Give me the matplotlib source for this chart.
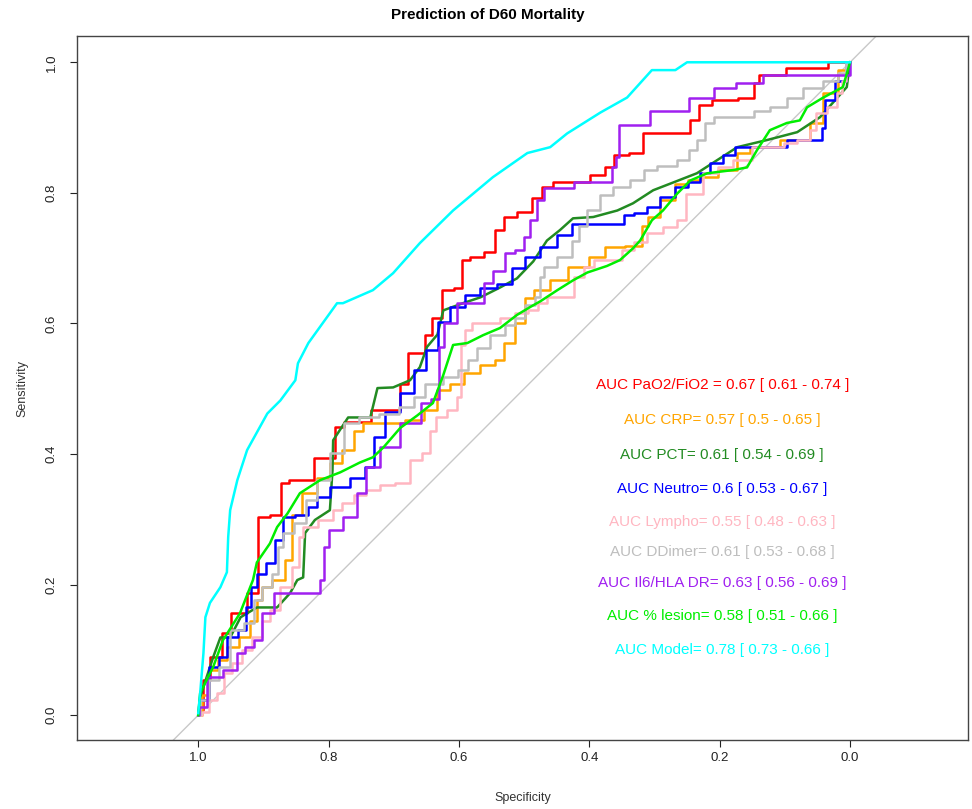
import matplotlib
matplotlib.use("Agg")
import matplotlib.pyplot as plt

plt.rcParams["font.family"] = ["Liberation Sans", "DejaVu Sans"]

# ROC curves: (specificity, sensitivity)
spec_pao2 = [1.0, 1.0, 0.986, 0.977, 0.951, 0.948, 0.933, 0.917, 0.900, 0.879, 0.867, 0.854, 0.824,
             0.821, 0.794, 0.787, 0.767, 0.702, 0.679, 0.678, 0.655, 0.649, 0.633, 0.618, 0.598,
             0.594, 0.572, 0.552, 0.537, 0.526, 0.495, 0.480, 0.465, 0.445, 0.414, 0.383, 0.368,
             0.357, 0.322, 0.314, 0.250, 0.242, 0.233, 0.230, 0.195, 0.149, 0.146, 0.133, 0.100,
             0.097, 0.035, 0.034, 0.0]
sens_pao2 = [0.0, 0.008, 0.054, 0.089, 0.126, 0.156, 0.156, 0.187, 0.303, 0.306, 0.355, 0.360, 0.360,
             0.394, 0.394, 0.441, 0.449, 0.467, 0.508, 0.554, 0.554, 0.582, 0.609, 0.651, 0.655,
             0.697, 0.701, 0.709, 0.743, 0.763, 0.770, 0.792, 0.809, 0.816, 0.816, 0.827, 0.839,
             0.858, 0.861, 0.891, 0.891, 0.911, 0.911, 0.934, 0.942, 0.946, 0.968, 0.980, 0.980,
             0.991, 0.991, 1.0, 1.0]

spec_crp = [1.0, 0.989, 0.977, 0.962, 0.951, 0.925, 0.916, 0.905, 0.900, 0.874, 0.859, 0.854, 0.828,
            0.808, 0.787, 0.771, 0.752, 0.741, 0.701, 0.664, 0.644, 0.624, 0.603, 0.583, 0.552,
            0.537, 0.526, 0.502, 0.495, 0.475, 0.445, 0.419, 0.383, 0.368, 0.322, 0.317, 0.302,
            0.281, 0.256, 0.241, 0.215, 0.189, 0.158, 0.149, 0.066, 0.057, 0.026, 0.011, 0.0]
sens_crp = [0.0, 0.031, 0.069, 0.084, 0.104, 0.119, 0.145, 0.176, 0.196, 0.207, 0.237, 0.306, 0.340,
            0.363, 0.386, 0.406, 0.436, 0.447, 0.447, 0.452, 0.467, 0.498, 0.508, 0.524, 0.536,
            0.544, 0.570, 0.600, 0.639, 0.651, 0.666, 0.686, 0.701, 0.717, 0.718, 0.750, 0.763,
            0.789, 0.813, 0.819, 0.824, 0.835, 0.861, 0.870, 0.881, 0.907, 0.953, 0.988, 1.0]

spec_pct = [1.0, 0.997, 0.977, 0.966, 0.951, 0.935, 0.910, 0.879, 0.859, 0.848, 0.839, 0.836, 0.821,
            0.798, 0.794, 0.793, 0.770, 0.736, 0.725, 0.701, 0.675, 0.660, 0.649, 0.633, 0.624,
            0.594, 0.567, 0.537, 0.511, 0.486, 0.465, 0.445, 0.425, 0.394, 0.357, 0.333, 0.302,
            0.271, 0.235, 0.173, 0.127, 0.081, 0.046, 0.005, 0.0]
sens_pct = [0.0, 0.028, 0.089, 0.119, 0.119, 0.150, 0.165, 0.165, 0.187, 0.207, 0.211, 0.279, 0.299,
            0.314, 0.375, 0.421, 0.456, 0.456, 0.501, 0.502, 0.513, 0.533, 0.564, 0.583, 0.620,
            0.631, 0.640, 0.655, 0.669, 0.695, 0.727, 0.743, 0.761, 0.763, 0.773, 0.784, 0.804,
            0.816, 0.830, 0.870, 0.881, 0.893, 0.916, 0.962, 1.0]

spec_neutro = [1.0, 0.997, 0.971, 0.966, 0.946, 0.931, 0.923, 0.916, 0.905, 0.887, 0.877, 0.863, 0.839,
               0.824, 0.813, 0.782, 0.752, 0.736, 0.725, 0.701, 0.679, 0.660, 0.640, 0.624, 0.603,
               0.578, 0.557, 0.526, 0.511, 0.486, 0.465, 0.434, 0.419, 0.353, 0.342, 0.322, 0.302,
               0.281, 0.256, 0.241, 0.219, 0.210, 0.179, 0.173, 0.107, 0.087, 0.046, 0.041, 0.035,
               0.011, 0.0]
sens_neutro = [0.0, 0.023, 0.074, 0.089, 0.119, 0.130, 0.165, 0.196, 0.217, 0.233, 0.268, 0.303, 0.306,
               0.319, 0.334, 0.349, 0.364, 0.380, 0.426, 0.464, 0.493, 0.528, 0.559, 0.602, 0.625,
               0.643, 0.655, 0.660, 0.685, 0.701, 0.717, 0.735, 0.753, 0.753, 0.766, 0.769, 0.778,
               0.793, 0.809, 0.816, 0.830, 0.845, 0.858, 0.870, 0.870, 0.881, 0.881, 0.900, 0.942,
               0.972, 1.0]

spec_lympho = [1.0, 0.989, 0.977, 0.966, 0.956, 0.940, 0.925, 0.910, 0.894, 0.885, 0.863, 0.848, 0.844,
               0.833, 0.798, 0.787, 0.771, 0.752, 0.732, 0.710, 0.686, 0.664, 0.649, 0.640, 0.629,
               0.609, 0.598, 0.595, 0.587, 0.572, 0.548, 0.526, 0.502, 0.486, 0.471, 0.460, 0.434,
               0.414, 0.403, 0.383, 0.357, 0.342, 0.322, 0.302, 0.271, 0.261, 0.241, 0.210, 0.195,
               0.164, 0.138, 0.107, 0.097, 0.066, 0.057, 0.046, 0.026, 0.015, 0.011, 0.0]
sens_lympho = [0.0, 0.005, 0.023, 0.034, 0.064, 0.080, 0.100, 0.119, 0.145, 0.161, 0.196, 0.227, 0.273,
               0.288, 0.299, 0.314, 0.325, 0.337, 0.345, 0.352, 0.355, 0.391, 0.401, 0.436, 0.456,
               0.467, 0.487, 0.567, 0.590, 0.600, 0.600, 0.609, 0.616, 0.620, 0.631, 0.640, 0.640,
               0.671, 0.686, 0.697, 0.697, 0.712, 0.724, 0.738, 0.747, 0.758, 0.799, 0.830, 0.839,
               0.850, 0.870, 0.870, 0.876, 0.881, 0.896, 0.922, 0.931, 0.953, 0.972, 1.0]

spec_ddimer = [1.0, 0.994, 0.974, 0.962, 0.939, 0.920, 0.910, 0.894, 0.879, 0.877, 0.863, 0.844, 0.824,
               0.813, 0.782, 0.771, 0.736, 0.710, 0.675, 0.664, 0.640, 0.609, 0.594, 0.578, 0.567,
               0.537, 0.521, 0.506, 0.491, 0.475, 0.475, 0.465, 0.434, 0.419, 0.414, 0.394, 0.373,
               0.353, 0.322, 0.311, 0.281, 0.250, 0.245, 0.225, 0.219, 0.199, 0.158, 0.138, 0.107,
               0.087, 0.057, 0.026, 0.011, 0.0]
sens_ddimer = [0.0, 0.023, 0.054, 0.074, 0.130, 0.141, 0.176, 0.196, 0.217, 0.257, 0.279, 0.294, 0.329,
               0.360, 0.401, 0.447, 0.456, 0.462, 0.472, 0.487, 0.508, 0.518, 0.528, 0.544, 0.562,
               0.582, 0.597, 0.609, 0.628, 0.640, 0.671, 0.686, 0.701, 0.727, 0.750, 0.773, 0.796,
               0.809, 0.819, 0.835, 0.841, 0.850, 0.865, 0.881, 0.907, 0.916, 0.916, 0.926, 0.931,
               0.946, 0.960, 0.972, 0.983, 1.0]

spec_il6 = [1.0, 0.997, 0.977, 0.946, 0.936, 0.920, 0.910, 0.893, 0.874, 0.817, 0.808, 0.805, 0.793,
            0.762, 0.752, 0.732, 0.710, 0.670, 0.660, 0.655, 0.632, 0.629, 0.618, 0.587, 0.567,
            0.557, 0.537, 0.521, 0.506, 0.495, 0.486, 0.475, 0.465, 0.434, 0.414, 0.368, 0.363,
            0.356, 0.353, 0.311, 0.304, 0.250, 0.245, 0.210, 0.207, 0.176, 0.173, 0.135, 0.133,
            0.0, 0.0]
sens_il6 = [0.0, 0.012, 0.058, 0.069, 0.095, 0.104, 0.115, 0.156, 0.187, 0.187, 0.207, 0.257, 0.283,
            0.303, 0.340, 0.380, 0.410, 0.447, 0.447, 0.478, 0.485, 0.564, 0.600, 0.631, 0.631,
            0.662, 0.681, 0.708, 0.712, 0.732, 0.758, 0.789, 0.807, 0.807, 0.816, 0.816, 0.839,
            0.855, 0.904, 0.904, 0.926, 0.926, 0.946, 0.946, 0.960, 0.960, 0.969, 0.969, 0.980,
            0.980, 1.0]

spec_lesion = [1.0, 0.997, 0.977, 0.962, 0.936, 0.916, 0.910, 0.890, 0.879, 0.863, 0.844, 0.813, 0.782,
               0.752, 0.732, 0.716, 0.690, 0.664, 0.640, 0.624, 0.609, 0.587, 0.563, 0.537, 0.511,
               0.491, 0.475, 0.449, 0.425, 0.403, 0.373, 0.353, 0.333, 0.322, 0.304, 0.287, 0.265,
               0.245, 0.219, 0.179, 0.158, 0.143, 0.123, 0.097, 0.077, 0.066, 0.041, 0.011, 0.0]
sens_lesion = [0.0, 0.034, 0.074, 0.115, 0.156, 0.207, 0.234, 0.263, 0.288, 0.309, 0.340, 0.360, 0.372,
               0.387, 0.395, 0.410, 0.440, 0.459, 0.478, 0.521, 0.567, 0.570, 0.582, 0.593, 0.613,
               0.625, 0.634, 0.651, 0.666, 0.678, 0.688, 0.697, 0.715, 0.727, 0.758, 0.773, 0.799,
               0.819, 0.830, 0.835, 0.839, 0.865, 0.896, 0.907, 0.911, 0.931, 0.946, 0.962, 1.0]

spec_model = [1.0, 0.997, 0.992, 0.989, 0.982, 0.966, 0.956, 0.954, 0.951, 0.940, 0.925, 0.894, 0.874,
              0.851, 0.847, 0.831, 0.787, 0.778, 0.732, 0.701, 0.660, 0.609, 0.548, 0.495, 0.460,
              0.434, 0.383, 0.342, 0.304, 0.268, 0.250, 0.0]
sens_model = [0.003, 0.034, 0.095, 0.150, 0.172, 0.196, 0.219, 0.273, 0.314, 0.360, 0.406, 0.462, 0.482,
              0.513, 0.539, 0.570, 0.631, 0.631, 0.651, 0.677, 0.723, 0.773, 0.824, 0.861, 0.870,
              0.891, 0.923, 0.946, 0.988, 0.988, 1.0, 1.0]

labels = [
    "AUC PaO2/FiO2 = 0.67 [ 0.61 - 0.74 ]",
    "AUC CRP= 0.57 [ 0.5 - 0.65 ]",
    "AUC PCT= 0.61 [ 0.54 - 0.69 ]",
    "AUC Neutro= 0.6 [ 0.53 - 0.67 ]",
    "AUC Lympho= 0.55 [ 0.48 - 0.63 ]",
    "AUC DDimer= 0.61 [ 0.53 - 0.68 ]",
    "AUC Il6/HLA DR= 0.63 [ 0.56 - 0.69 ]",
    "AUC % lesion= 0.58 [ 0.51 - 0.66 ]",
    "AUC Model= 0.78 [ 0.73 - 0.66 ]",
]
colors = ["#ff0000", "#ffa500", "#228b22", "#0000ff", "#ffb6c1",
          "#bebebe", "#a020f0", "#00ee00", "#00ffff"]
# stepped look for the empirical curves, the smoother ones stay plain
steps = ["steps-mid", "steps-mid", "default", "steps-mid", "steps-mid",
         "steps-mid", "steps-mid", "default", "default"]

curves = [(spec_pao2, sens_pao2), (spec_crp, sens_crp), (spec_pct, sens_pct),
          (spec_neutro, sens_neutro), (spec_lympho, sens_lympho), (spec_ddimer, sens_ddimer),
          (spec_il6, sens_il6), (spec_lesion, sens_lesion), (spec_model, sens_model)]

fig = plt.figure(figsize=(9.72, 8.09), dpi=100)
ax = fig.add_axes([0.0792, 0.0853, 0.9167, 0.870])

ax.axline((1.0, 0.0), (0.0, 1.0), color="#c8c8c8", lw=1.0, zorder=1)

for (sp, se), col, ds in zip(curves, colors, steps):
    ax.plot(sp, se, color=col, lw=1.8, drawstyle=ds, zorder=2)

ax.set_xlim(1.186, -0.181)
ax.set_ylim(-0.038, 1.040)

ax.set_xticks([1.0, 0.8, 0.6, 0.4, 0.2, 0.0])
ax.set_xticklabels(["1.0", "0.8", "0.6", "0.4", "0.2", "0.0"])
ax.set_yticks([0.0, 0.2, 0.4, 0.6, 0.8, 1.0])
ax.set_yticklabels(["0.0", "0.2", "0.4", "0.6", "0.8", "1.0"], rotation=90, va="center")
ax.tick_params(direction="out", length=5, labelsize=9.5, colors="#222222", width=0.8)
ax.tick_params(axis="y", pad=9)
for s in ax.spines.values():
    s.set_color("#444444")
    s.set_linewidth(1.0)

ax.set_xlabel("Specificity", fontsize=9, color="#333333", labelpad=20)
ax.set_ylabel("Sensitivity", fontsize=9, color="#333333", labelpad=12)
fig.text(0.502, 0.981, "Prediction of D60 Mortality", fontsize=11, fontweight="bold",
         ha="center", va="center")

label_y = [0.505, 0.452, 0.398, 0.346, 0.296, 0.250, 0.202, 0.152, 0.100]
for txt, col, y in zip(labels, colors, label_y):
    ax.text(0.196, y, txt, color=col, fontsize=11, ha="center", va="center")

fig.savefig("out.png", dpi=100)
